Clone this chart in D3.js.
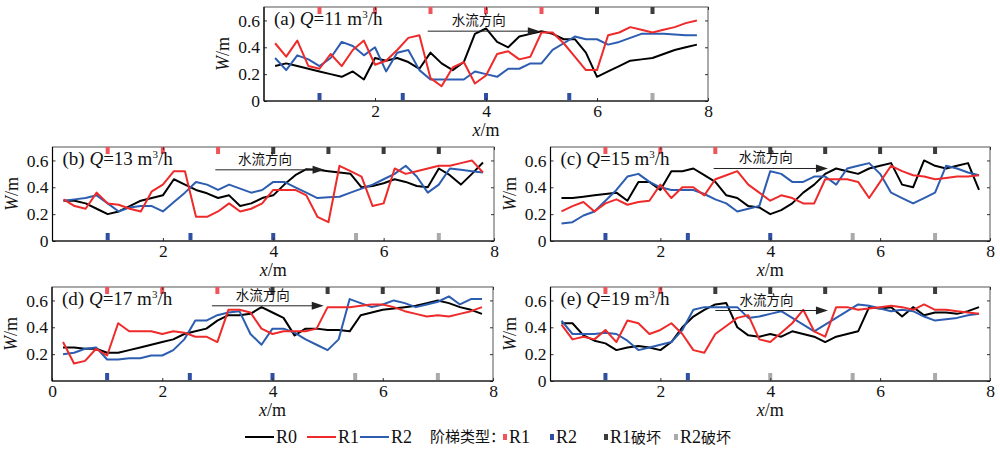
<!DOCTYPE html>
<html>
<head>
<meta charset="utf-8">
<script src="https://cdn.jsdelivr.net/npm/d3@7"></script>
<style>
  body { margin: 0; background: #fff; }
  svg text { font-family: "Liberation Serif", "Times New Roman", serif; }
  .cjk { font-family: "Noto Sans CJK SC", sans-serif !important; }
</style>
</head>
<body>
<div id="chart"></div>
<script>
// sample positions along the channel (m)
const xs = [0.2, 0.4, 0.6, 0.8, 1.0, 1.2, 1.4, 1.6, 1.8, 2.0, 2.2, 2.4, 2.6, 2.8, 3.0, 3.2, 3.4, 3.6, 3.8, 4.0,
            4.2, 4.4, 4.6, 4.8, 5.0, 5.2, 5.4, 5.6, 5.8, 6.0, 6.2, 6.4, 6.6, 6.8, 7.0, 7.2, 7.4, 7.6, 7.8];

// (a) Q = 11
const r0a = [0.26, 0.28, 0.26, 0.24, 0.22, 0.20, 0.18, 0.22, 0.16, 0.32, 0.30, 0.32, 0.29, 0.24, 0.36, 0.28, 0.23, 0.29, 0.50, 0.54,
             0.44, 0.40, 0.48, 0.50, 0.52, 0.50, 0.46, 0.46, 0.36, 0.18, 0.22, 0.26, 0.30, 0.31, 0.32, 0.35, 0.38, 0.40, 0.42];
const r1a = [0.43, 0.33, 0.45, 0.26, 0.24, 0.35, 0.26, 0.38, 0.45, 0.27, 0.30, 0.38, 0.47, 0.49, 0.17, 0.11, 0.25, 0.29, 0.13, 0.19,
             0.35, 0.37, 0.31, 0.33, 0.51, 0.51, 0.43, 0.33, 0.23, 0.23, 0.49, 0.51, 0.55, 0.53, 0.51, 0.53, 0.55, 0.58, 0.60];
const r2a = [0.32, 0.23, 0.34, 0.31, 0.26, 0.32, 0.44, 0.41, 0.34, 0.40, 0.22, 0.36, 0.38, 0.23, 0.16, 0.16, 0.16, 0.16, 0.22, 0.20,
             0.18, 0.24, 0.24, 0.28, 0.28, 0.38, 0.43, 0.48, 0.46, 0.46, 0.42, 0.44, 0.47, 0.50, 0.50, 0.50, 0.495, 0.49, 0.49];

// (b) Q = 13
const r0b = [0.30, 0.30, 0.28, 0.24, 0.20, 0.22, 0.26, 0.30, 0.32, 0.34, 0.46, 0.42, 0.38, 0.355, 0.32, 0.34, 0.26, 0.28, 0.32, 0.34,
             0.42, 0.49, 0.535, 0.53, 0.52, 0.51, 0.50, 0.40, 0.41, 0.43, 0.46, 0.44, 0.41, 0.40, 0.54, 0.49, 0.42, 0.50, 0.585];
const r1b = [0.31, 0.26, 0.24, 0.36, 0.28, 0.27, 0.24, 0.22, 0.37, 0.42, 0.52, 0.52, 0.18, 0.18, 0.22, 0.28, 0.22, 0.24, 0.28, 0.38,
             0.38, 0.38, 0.34, 0.18, 0.14, 0.56, 0.52, 0.48, 0.26, 0.28, 0.54, 0.50, 0.52, 0.54, 0.56, 0.56, 0.58, 0.60, 0.51];
const r2b = [0.30, 0.31, 0.32, 0.34, 0.28, 0.22, 0.25, 0.26, 0.26, 0.22, 0.29, 0.36, 0.44, 0.42, 0.38, 0.42, 0.39, 0.36, 0.38, 0.44,
             0.44, 0.40, 0.36, 0.32, 0.325, 0.33, 0.36, 0.39, 0.42, 0.46, 0.50, 0.56, 0.48, 0.36, 0.42, 0.54, 0.53, 0.52, 0.51];

// (c) Q = 15
const r0c = [0.32, 0.32, 0.33, 0.34, 0.35, 0.36, 0.30, 0.44, 0.44, 0.38, 0.52, 0.52, 0.54, 0.49, 0.44, 0.34, 0.32, 0.26, 0.25, 0.20,
             0.23, 0.28, 0.36, 0.42, 0.50, 0.54, 0.52, 0.50, 0.54, 0.56, 0.58, 0.42, 0.40, 0.60, 0.56, 0.54, 0.56, 0.58, 0.38];
const r1c = [0.22, 0.26, 0.29, 0.22, 0.28, 0.31, 0.27, 0.29, 0.30, 0.42, 0.32, 0.40, 0.40, 0.34, 0.46, 0.49, 0.52, 0.42, 0.36, 0.30,
             0.34, 0.32, 0.28, 0.28, 0.46, 0.46, 0.46, 0.44, 0.32, 0.44, 0.56, 0.52, 0.49, 0.48, 0.46, 0.47, 0.48, 0.48, 0.49];
const r2c = [0.13, 0.14, 0.19, 0.22, 0.30, 0.38, 0.48, 0.50, 0.44, 0.40, 0.38, 0.38, 0.38, 0.35, 0.31, 0.28, 0.22, 0.24, 0.26, 0.52,
             0.50, 0.44, 0.44, 0.48, 0.48, 0.42, 0.54, 0.56, 0.58, 0.50, 0.36, 0.32, 0.28, 0.32, 0.36, 0.56, 0.54, 0.51, 0.49];

// (d) Q = 17
const r0d = [0.25, 0.25, 0.24, 0.24, 0.21, 0.21, 0.23, 0.25, 0.27, 0.29, 0.31, 0.35, 0.37, 0.39, 0.45, 0.49, 0.49, 0.50, 0.55, 0.51,
             0.47, 0.34, 0.39, 0.39, 0.38, 0.38, 0.37, 0.49, 0.51, 0.53, 0.54, 0.55, 0.56, 0.58, 0.60, 0.58, 0.55, 0.53, 0.50];
const r1d = [0.29, 0.13, 0.15, 0.24, 0.19, 0.43, 0.37, 0.37, 0.37, 0.35, 0.37, 0.36, 0.33, 0.33, 0.29, 0.53, 0.53, 0.51, 0.39, 0.35,
             0.37, 0.37, 0.37, 0.39, 0.55, 0.55, 0.55, 0.56, 0.57, 0.57, 0.55, 0.52, 0.50, 0.48, 0.49, 0.48, 0.50, 0.52, 0.55];
const r2d = [0.20, 0.21, 0.24, 0.25, 0.16, 0.16, 0.17, 0.17, 0.19, 0.19, 0.23, 0.31, 0.45, 0.45, 0.49, 0.51, 0.52, 0.35, 0.27, 0.39,
             0.39, 0.36, 0.31, 0.27, 0.23, 0.31, 0.61, 0.58, 0.55, 0.57, 0.60, 0.58, 0.55, 0.57, 0.59, 0.63, 0.57, 0.61, 0.61];

// (e) Q = 19
const r0e = [0.43, 0.43, 0.34, 0.30, 0.28, 0.23, 0.25, 0.26, 0.25, 0.23, 0.29, 0.40, 0.48, 0.53, 0.57, 0.58, 0.40, 0.34, 0.33, 0.35,
             0.33, 0.37, 0.35, 0.33, 0.29, 0.33, 0.35, 0.37, 0.55, 0.54, 0.55, 0.48, 0.55, 0.49, 0.51, 0.51, 0.50, 0.52, 0.55];
const r1e = [0.42, 0.31, 0.33, 0.31, 0.38, 0.29, 0.45, 0.43, 0.35, 0.38, 0.43, 0.35, 0.23, 0.21, 0.35, 0.41, 0.47, 0.49, 0.31, 0.29,
             0.36, 0.43, 0.53, 0.37, 0.33, 0.55, 0.55, 0.53, 0.54, 0.55, 0.56, 0.55, 0.53, 0.57, 0.53, 0.53, 0.52, 0.51, 0.50];
const r2e = [0.45, 0.35, 0.35, 0.35, 0.36, 0.35, 0.30, 0.23, 0.25, 0.27, 0.29, 0.38, 0.53, 0.55, 0.55, 0.55, 0.55, 0.47, 0.48, 0.50,
             0.52, 0.47, 0.42, 0.37, 0.42, 0.47, 0.52, 0.57, 0.56, 0.54, 0.52, 0.53, 0.52, 0.48, 0.45, 0.46, 0.47, 0.49, 0.50];

// step positions (m) per panel
const stepR1 = [[1, 2, 3, 4, 5], [1, 2, 3], [1, 2, 3], [1, 2, 3], [1, 2]];
const stepR1broken = [[6, 7], [4, 5, 6, 7], [4, 5, 6, 7], [4, 5, 6, 7], [3, 4, 5, 6, 7]];
const stepR2 = [[1, 2.5, 4, 5.5], [1, 2.5, 4], [1, 2.5, 4], [1, 2.5, 4], [1, 2.5]];
const stepR2broken = [[7], [5.5, 7], [5.5, 7], [5.5, 7], [4, 5.5, 7]];

const panelTags = ["(a)", "(b)", "(c)", "(d)", "(e)"];
const flows = [11, 13, 15, 17, 19];
const yTicks = [0, 0.2, 0.4, 0.6];
const xTicks = [2, 4, 6, 8];
const xTicksD = [0, 2, 4, 6, 8];
const arrowFrom = [2.95, 2.95, 2.97, 2.9, 3.0];
const arrowTo = [4.97, 4.93, 5.05, 4.93, 5.05];
const arrowY = [0.52, 0.53, 0.54, 0.56, 0.525];

const colors = { R0: "#000000", R1: "#ee2a2a", R2: "#2d5db0" };
const markColors = { r1: "#f0545a", r2: "#2f4fa3", r1b: "#3c3c3c", r2b: "#aaaaaa" };

const series = [[r0a, r1a, r2a], [r0b, r1b, r2b], [r0c, r1c, r2c], [r0d, r1d, r2d], [r0e, r1e, r2e]];

// panel boxes
const boxes = [
  { left: 264, right: 708, top: 7, bottom: 101 },
  { left: 52.5, right: 494, top: 147, bottom: 241 },
  { left: 550.5, right: 990, top: 147, bottom: 241 },
  { left: 52, right: 493, top: 287, bottom: 381 },
  { left: 550.5, right: 990, top: 287, bottom: 381 }
];

const svg = d3.select("#chart").append("svg")
  .attr("width", 1000).attr("height", 451);

boxes.forEach(function (b, i) {
  const g = svg.append("g");
  const x = d3.scaleLinear().domain([0, 8]).range([b.left, b.right]);
  const y = d3.scaleLinear().domain([0, 0.7]).range([b.bottom, b.top]);

  // frame
  g.append("rect")
    .attr("x", b.left).attr("y", b.top)
    .attr("width", b.right - b.left).attr("height", b.bottom - b.top)
    .attr("fill", "none").attr("stroke", "#555").attr("stroke-width", 1);

  // step markers
  const mw = 4, mh = 7;
  const marks = [
    [stepR1[i], markColors.r1, "top"], [stepR1broken[i], markColors.r1b, "top"],
    [stepR2[i], markColors.r2, "bottom"], [stepR2broken[i], markColors.r2b, "bottom"]
  ];
  marks.forEach(function (m) {
    g.selectAll(null).data(m[0]).join("rect")
      .attr("x", d => x(d) - mw / 2)
      .attr("y", m[2] == "top" ? b.top : b.bottom - mh - 1)
      .attr("width", mw).attr("height", mh)
      .attr("fill", m[1]);
  });

  const fontSize = 17.5;
  const yAxis = d3.axisLeft(y).tickValues(i == 3 ? yTicks.slice(1) : yTicks)
    .tickSize(-3).tickPadding(4)
    .tickFormat(d => d == 0 ? "0" : d3.format(".1f")(d));
  const ya = g.append("g").attr("transform", `translate(${b.left},0)`).call(yAxis);
  const xAxis = d3.axisBottom(x).tickValues(i == 3 ? xTicksD : xTicks)
    .tickSize(-3).tickPadding(4).tickFormat(d3.format("d"));
  const xa = g.append("g").attr("transform", `translate(0,${b.bottom})`).call(xAxis);
  g.append("g").attr("transform", `translate(${b.right},0)`)
    .call(d3.axisRight(y).tickValues(yTicks).tickSize(-3).tickFormat(""));
  g.append("g").attr("transform", `translate(0,${b.top})`)
    .call(d3.axisTop(x).tickValues(xTicks).tickSize(-3).tickFormat(""));
  g.selectAll(".domain").remove();
  g.selectAll(".tick line").attr("stroke", "#333");
  [ya, xa].forEach(a => a.selectAll("text")
    .style("font-family", "Liberation Serif").style("font-size", fontSize + "px").attr("fill", "#111"));
  // left + bottom axis lines
  g.append("line").attr("x1", b.left).attr("x2", b.left).attr("y1", b.top).attr("y2", b.bottom)
    .attr("stroke", "#000").attr("stroke-width", 1.2);
  g.append("line").attr("x1", b.left).attr("x2", b.right).attr("y1", b.bottom).attr("y2", b.bottom)
    .attr("stroke", "#000").attr("stroke-width", 1.2);

  // lines (R0, R2, R1 drawing order)
  const line = d3.line().x((d, k) => x(xs[k])).y(d => y(d));
  const order = [0, 2, 1];
  order.forEach(function (s) {
    g.append("path").datum(series[i][s])
      .attr("d", line)
      .attr("fill", "none")
      .attr("stroke", colors[["R0", "R1", "R2"][s]])
      .attr("stroke-width", 2)
      .attr("stroke-linejoin", "round");
  });

  // flow arrow
  const ay = y(arrowY[i]);
  const ax1 = x(arrowFrom[i]), ax2 = x(arrowTo[i]);
  g.append("line").attr("x1", ax1).attr("x2", ax2 - 8).attr("y1", ay).attr("y2", ay)
    .attr("stroke", "#222").attr("stroke-width", 1);
  g.append("path")
    .attr("d", `M${ax2},${ay} L${ax2 - 12},${ay - 4} L${ax2 - 12},${ay + 4} Z`)
    .attr("fill", "#222");
  g.append("text").attr("class", "cjk")
    .attr("x", (ax1 + ax2) / 2 - 5).attr("y", ay - 6)
    .attr("text-anchor", "middle")
    .style("font-size", "13.5px").attr("fill", "#111")
    .text("水流方向");

  // panel tag
  const tag = g.append("text")
    .attr("x", b.left + 10).attr("y", b.top + 18)
    .style("font-size", "19px").attr("fill", "#111");
  tag.append("tspan").text(panelTags[i] + " ");
  tag.append("tspan").style("font-style", "italic").text("Q");
  tag.append("tspan").text("=" + flows[i] + " m");
  tag.append("tspan").attr("dy", -7).style("font-size", "11px").text("3");
  tag.append("tspan").attr("dy", 7).text("/h");

  // axis titles
  const xl = g.append("text")
    .attr("x", (b.left + b.right) / 2).attr("y", b.bottom + 35)
    .attr("text-anchor", "middle").style("font-size", "18px").attr("fill", "#111");
  xl.append("tspan").style("font-style", "italic").text("x");
  xl.append("tspan").text("/m");

  const yl = g.append("text")
    .attr("transform", `translate(${b.left - 35},${(b.top + b.bottom) / 2}) rotate(-90)`)
    .attr("text-anchor", "middle").style("font-size", "18px").attr("fill", "#111");
  yl.append("tspan").style("font-style", "italic").text("W");
  yl.append("tspan").text("/m");
});

// legend
const leg = svg.append("g").attr("transform", "translate(0,437)");
const lineItems = [["R0", 245], ["R1", 307], ["R2", 360]];
lineItems.forEach(function (it) {
  leg.append("line").attr("x1", it[1]).attr("x2", it[1] + 29).attr("y1", 0).attr("y2", 0)
    .attr("stroke", colors[it[0]]).attr("stroke-width", 2);
  leg.append("text").attr("x", it[1] + 31).attr("y", 6).style("font-size", "18px").attr("fill", "#111").text(it[0]);
});
leg.append("text").attr("class", "cjk").attr("x", 430).attr("y", 5)
  .style("font-size", "15px").attr("fill", "#111").text("阶梯类型：");
const markItems = [["r1", 503, "R1"], ["r2", 550, "R2"], ["r1b", 604, "R1破坏"], ["r2b", 674, "R2破坏"]];
markItems.forEach(function (it) {
  leg.append("rect").attr("x", it[1]).attr("y", -3).attr("width", 4).attr("height", 6)
    .attr("fill", markColors[it[0]]);
  const t = leg.append("text").attr("x", it[1] + 6).attr("y", 6).style("font-size", "18px").attr("fill", "#111");
  t.append("tspan").text(it[2].slice(0, 2));
  if (it[2].length > 2) t.append("tspan").attr("class", "cjk").style("font-size", "15px").text(it[2].slice(2));
});
</script>
</body>
</html>
